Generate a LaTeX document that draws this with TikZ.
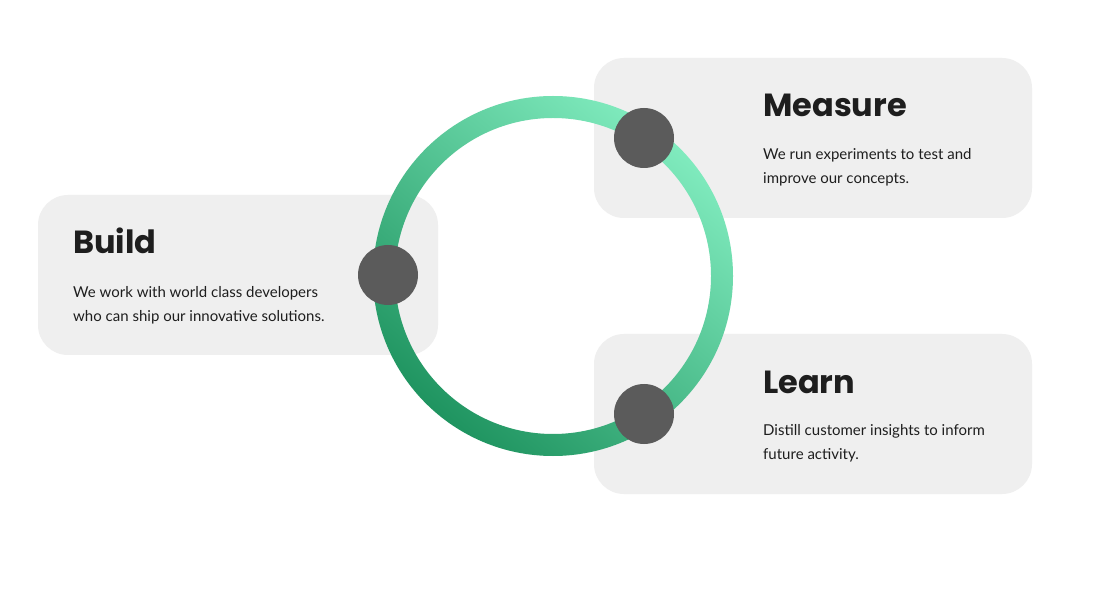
\documentclass[tikz,border=0pt]{standalone}
\usepackage{fontspec}
\setmainfont{Lato}
\newfontfamily\titlefont{Poppins}
\definecolor{boxgray}{HTML}{EFEFEF}
\definecolor{dotgray}{HTML}{5B5B5B}
\definecolor{gdark}{HTML}{1F9460}
\definecolor{glight}{HTML}{80EBBE}
\definecolor{txt}{HTML}{1E1E1E}
\begin{document}
\begin{tikzpicture}[x=1pt,y=1pt,
  card/.style={fill=boxgray,rounded corners=30pt},
  dot/.style={circle,fill=dotgray,minimum size=60pt,inner sep=0pt},
  ttl/.style={anchor=base west,inner sep=0pt,font=\titlefont\bfseries\fontsize{32}{36}\selectfont,text=txt},
  body/.style={anchor=north west,inner sep=0pt,align=left,font=\fontsize{15}{24}\selectfont,text=txt}]
\useasboundingbox (0,0) rectangle (1110,600);
\fill[white] (0,0) rectangle (1110,600);
\fill[card] (38,245) rectangle (438,405);
\fill[card] (594,382) rectangle (1032,542);
\fill[card] (594,106) rectangle (1032,266);
\coordinate (c) at (553,324);
\shade[even odd rule,bottom color=gdark,top color=glight,shading angle=-40]
  (c) circle (180) (c) circle (158);
\node[dot] (b) at (388,325) {};
\node[dot] (m) at (644,462) {};
\node[dot] (l) at (644,186) {};
\node[ttl] (bt) at (73,346) {Build};
\node[body] (bb) at (73,314) {We work with world class developers\\who can ship our innovative solutions.};
\node[ttl] (mt) at (763,483) {Measure};
\node[body] (mb) at (763,452) {We run experiments to test and\\improve our concepts.};
\node[ttl] (lt) at (763,207) {Learn};
\node[body] (lb) at (763,176) {Distill customer insights to inform\\future activity.};
\end{tikzpicture}
\end{document}
